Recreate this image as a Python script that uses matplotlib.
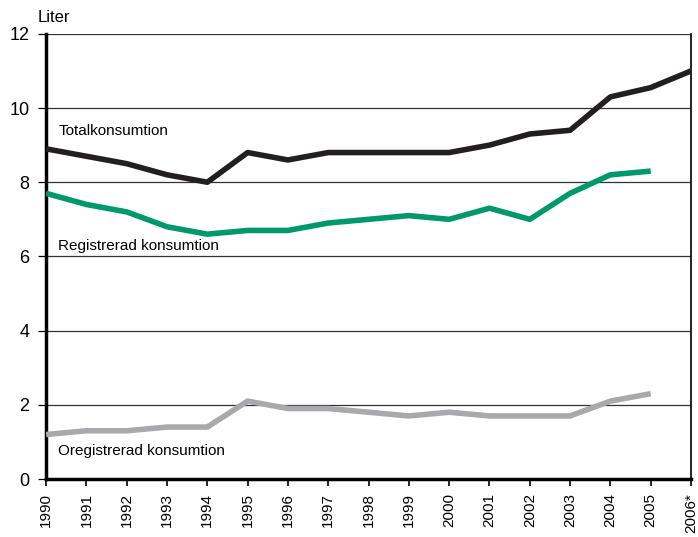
import matplotlib
matplotlib.use("Agg")
import matplotlib.pyplot as plt

plt.rcParams['font.family'] = ['Liberation Sans Narrow', 'Liberation Sans', 'DejaVu Sans']

years = list(range(1990, 2007))
year_labels = [str(y) for y in years[:-1]] + ['2006*']

total = [8.9, 8.7, 8.5, 8.2, 8.0, 8.8, 8.6, 8.8, 8.8, 8.8, 8.8, 9.0, 9.3, 9.4, 10.3, 10.55, 11.0]
registrerad = [7.7, 7.4, 7.2, 6.8, 6.6, 6.7, 6.7, 6.9, 7.0, 7.1, 7.0, 7.3, 7.0, 7.7, 8.2, 8.3]
oregistrerad = [1.2, 1.3, 1.3, 1.4, 1.4, 2.1, 1.9, 1.9, 1.8, 1.7, 1.8, 1.7, 1.7, 1.7, 2.1, 2.3]

fig = plt.figure(figsize=(6.98, 5.37), dpi=100)
ax = fig.add_axes([0.066, 0.108, 0.924, 0.829])

for v in range(2, 13, 2):
    ax.axhline(v, color='#333333', lw=0.9, zorder=1)

ax.plot(years, total, color='#231f20', lw=4, solid_capstyle='butt', zorder=3)
ax.plot(years[:len(registrerad)], registrerad, color='#00996b', lw=4, solid_capstyle='butt', zorder=3)
ax.plot(years[:len(oregistrerad)], oregistrerad, color='#a7a9ac', lw=4, solid_capstyle='butt', zorder=3)

ax.text(1990.3, 9.38, 'Totalkonsumtion', fontsize=11, va='center', ha='left')
ax.text(1990.3, 6.28, 'Registrerad konsumtion', fontsize=11, va='center', ha='left')
ax.text(1990.3, 0.75, 'Oregistrerad konsumtion', fontsize=11, va='center', ha='left')

ax.set_xlim(1990, 2006)
ax.set_ylim(0, 12)
ax.set_yticks(range(0, 13, 2))
ax.set_xticks(years)
ax.set_xticklabels(year_labels, rotation=90, fontsize=11)
ax.tick_params(axis='y', labelsize=13, length=6, width=0.9, pad=6)
ax.tick_params(axis='x', length=5, width=1.2, pad=5)

ax.spines['top'].set_visible(False)
ax.spines['left'].set_linewidth(2.5)
ax.spines['bottom'].set_linewidth(2.5)
ax.spines['right'].set_linewidth(1.2)

fig.text(38 / 698, 1 - 18 / 537, 'Liter', fontsize=12, va='center', ha='left')

fig.savefig('out.png', dpi=100)
